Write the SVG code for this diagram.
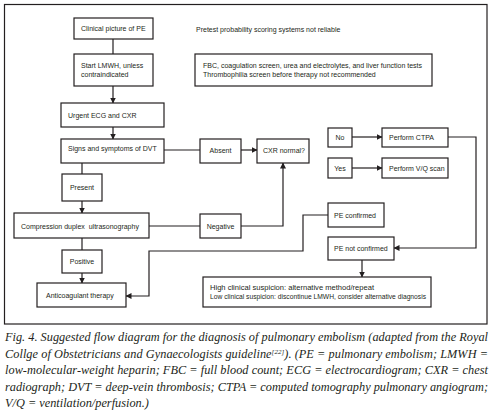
<svg xmlns="http://www.w3.org/2000/svg" width="496" height="415" viewBox="0 0 496 415">
<defs>
<style>
.b{fill:#fff;stroke:#231f20;stroke-width:1.2}
.t{font-family:"Liberation Sans",Arial,sans-serif;font-size:7px;fill:#231f20}
.c{text-anchor:middle}
.l{fill:none;stroke:#231f20;stroke-width:1.2}
.cap{font-family:"Liberation Serif","Times New Roman",serif;font-style:italic;font-size:12.3px;fill:#231f20}
</style>
<marker id="ah" markerWidth="6" markerHeight="6" refX="5.5" refY="3" orient="auto" markerUnits="userSpaceOnUse">
<path d="M0,0 L6,3 L0,6 Z" fill="#231f20"/>
</marker>
</defs>
<rect width="496" height="415" fill="#fff"/>
<rect x="4.5" y="4.5" width="482.5" height="319.5" fill="none" stroke="#231f20" stroke-width="1.2"/>

<g id="connectors">
<path class="l" d="M113,39 V54"/>
<path class="l" d="M113,86 V103" marker-end="url(#ah)"/>
<path class="l" d="M113,127 V139" marker-end="url(#ah)"/>
<path class="l" d="M164,150 H200"/>
<path class="l" d="M241,150 H257" marker-end="url(#ah)"/>
<path class="l" d="M82,163 V174"/>
<path class="l" d="M82,201 V213" marker-end="url(#ah)"/>
<path class="l" d="M149,226 H200"/>
<path class="l" d="M241,226 H283 V163" marker-end="url(#ah)"/>
<path class="l" d="M82,238 V250"/>
<path class="l" d="M82,273 V283" marker-end="url(#ah)"/>
<path class="l" d="M328,215 H303 V251 H149 V296 H126" marker-end="url(#ah)"/>
<path class="l" d="M352,137 H382" marker-end="url(#ah)"/>
<path class="l" d="M352,168 H382" marker-end="url(#ah)"/>
<path class="l" d="M448,137 H476 V248 H394" marker-end="url(#ah)"/>
<path class="l" d="M362,260 V277" marker-end="url(#ah)"/>
</g>

<g id="clinical"><rect class="b" x="74" y="18" width="79" height="21"/><text class="t" x="81" y="31">Clinical picture of PE</text></g>
<g id="pretest"><text class="t" x="196" y="31.5">Pretest probability scoring systems not reliable</text></g>
<g id="lmwh"><rect class="b" x="74" y="54" width="79" height="32"/><text class="t" x="81" y="67.5">Start LMWH, unless</text><text class="t" x="81" y="76.5">contraindicated</text></g>
<g id="fbc"><rect class="b" x="195" y="54" width="237" height="32"/><text class="t" x="203" y="67.5">FBC, coagulation screen, urea and electrolytes, and liver function tests</text><text class="t" x="203" y="76.5">Thrombophilia screen before therapy not recommended</text></g>
<g id="urgent"><rect class="b" x="61" y="103" width="103" height="24"/><text class="t" x="68" y="117.5">Urgent ECG and CXR</text></g>
<g id="signs"><rect class="b" x="61" y="139" width="103" height="24"/><text class="t" x="68" y="151">Signs and symptoms of DVT</text></g>
<g id="absent"><rect class="b" x="200" y="139" width="41" height="24"/><text class="t c" x="220.5" y="152.5">Absent</text></g>
<g id="cxr"><rect class="b" x="257" y="139" width="52" height="24"/><text class="t" x="263" y="152.5">CXR normal?</text></g>
<g id="no"><rect class="b" x="328" y="128" width="24" height="19"/><text class="t c" x="340" y="140">No</text></g>
<g id="ctpa"><rect class="b" x="382" y="128" width="66" height="19"/><text class="t" x="389" y="140">Perform CTPA</text></g>
<g id="yes"><rect class="b" x="328" y="158" width="24" height="20"/><text class="t c" x="340" y="170.5">Yes</text></g>
<g id="vq"><rect class="b" x="382" y="158" width="66" height="20"/><text class="t" x="389" y="170.5">Perform V/Q scan</text></g>
<g id="present"><rect class="b" x="62" y="174" width="40" height="27"/><text class="t c" x="82" y="190">Present</text></g>
<g id="compression"><rect class="b" x="14" y="213" width="135" height="25"/><text class="t" x="21" y="228.5" xml:space="preserve">Compression duplex  ultrasonography</text></g>
<g id="negative"><rect class="b" x="200" y="214" width="41" height="24"/><text class="t c" x="220.5" y="228.5">Negative</text></g>
<g id="pe-confirmed"><rect class="b" x="328" y="203" width="56" height="24"/><text class="t" x="334" y="217.5">PE confirmed</text></g>
<g id="positive"><rect class="b" x="62" y="250" width="40" height="23"/><text class="t c" x="82" y="264">Positive</text></g>
<g id="pe-not-confirmed"><rect class="b" x="328" y="237" width="66" height="23"/><text class="t" x="334" y="251">PE not confirmed</text></g>
<g id="anticoagulant"><rect class="b" x="37" y="283" width="89" height="24"/><text class="t" x="46" y="297.5">Anticoagulant therapy</text></g>
<g id="suspicion"><rect class="b" x="203" y="277" width="228" height="30"/><text class="t" x="210" y="289.5" textLength="164" lengthAdjust="spacingAndGlyphs">High clinical suspicion: alternative method/repeat</text><text class="t" x="210" y="299" textLength="216" lengthAdjust="spacingAndGlyphs">Low clinical suspicion: discontinue LMWH, consider alternative diagnosis</text></g>

<g id="caption">
<text class="cap" x="5" y="341" textLength="483" lengthAdjust="spacing">Fig. 4. Suggested flow diagram for the diagnosis of pulmonary embolism (adapted from the Royal</text>
<text class="cap" x="5" y="357.5" textLength="483" lengthAdjust="spacing">Collge of Obstetricians and Gynaecologists guideline<tspan font-size="7" dy="-4">[22]</tspan><tspan dy="4">). (PE = pulmonary embolism; LMWH =</tspan></text>
<text class="cap" x="5" y="374" textLength="483" lengthAdjust="spacing">low-molecular-weight heparin; FBC = full blood count; ECG = electrocardiogram; CXR = chest</text>
<text class="cap" x="5" y="390.5" textLength="483" lengthAdjust="spacing">radiograph; DVT = deep-vein thrombosis; CTPA = computed tomography pulmonary angiogram;</text>
<text class="cap" x="5" y="407">V/Q = ventilation/perfusion.)</text>
</g>
</svg>
